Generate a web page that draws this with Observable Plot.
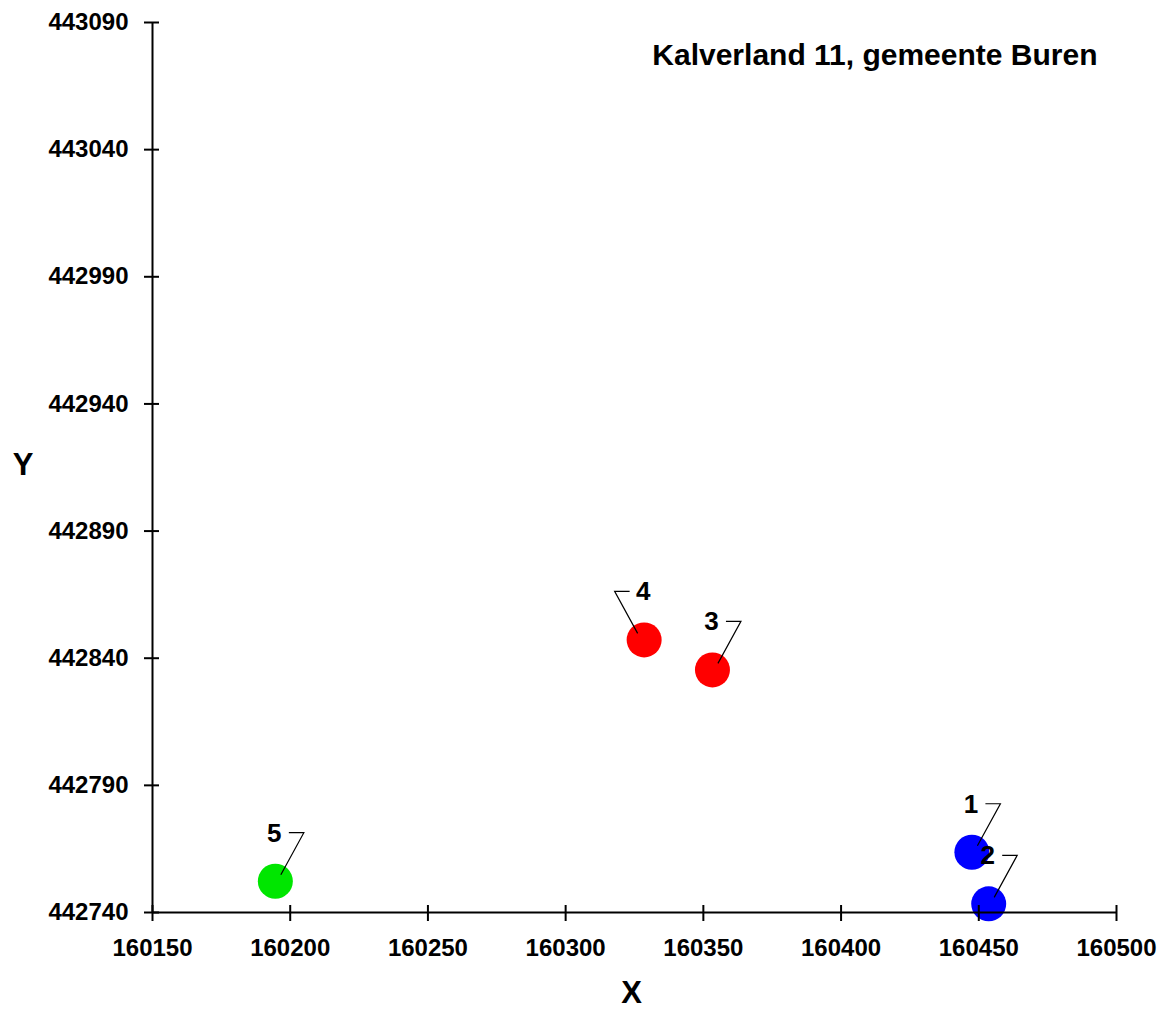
<!DOCTYPE html>
<html>
<head>
<meta charset="utf-8">
<script src="https://cdn.jsdelivr.net/npm/d3@7"></script>
<script src="https://cdn.jsdelivr.net/npm/@observablehq/plot@0.6"></script>
<style>
  html, body { margin: 0; padding: 0; background: #fff; }
</style>
</head>
<body>
<div id="chart"></div>
<script>
const title = "Kalverland 11, gemeente Buren";
const labels = ["1", "2", "3", "4", "5"];
const xs = [160447.5, 160453.6, 160353.3, 160328.5, 160194.6];
const ys = [442763.7, 442743.4, 442835.4, 442847.2, 442752.3];
const groups = ["blauw", "blauw", "rood", "rood", "groen"];
const labelSide = [1, 1, 1, -1, 1];
const xTicks = [160150, 160200, 160250, 160300, 160350, 160400, 160450, 160500];
const yTicks = [442740, 442790, 442840, 442890, 442940, 442990, 443040, 443090];

const data = labels.map((l, i) => ({label: l, x: xs[i], y: ys[i], group: groups[i], side: labelSide[i]}));

const font = "'Liberation Sans', Arial, sans-serif";

function leaders(index, scales, values, dimensions, context) {
  const ns = "http://www.w3.org/2000/svg";
  const g = document.createElementNS(ns, "g");
  for (const d of data) {
    const cx = scales.x(d.x), cy = scales.y(d.y), s = d.side;
    const p = document.createElementNS(ns, "path");
    p.setAttribute("d", `M${cx + 6 * s},${cy - 6}L${cx + 29 * s},${cy - 48}L${cx + 14 * s},${cy - 48}`);
    p.setAttribute("fill", "none");
    p.setAttribute("stroke", "#000");
    p.setAttribute("stroke-width", "1.2");
    g.appendChild(p);
  }
  return g;
}

const chart = Plot.plot({
  width: 1166,
  height: 1010,
  marginLeft: 152,
  marginRight: 50,
  marginTop: 22,
  marginBottom: 98,
  style: {fontFamily: font, fontSize: "24px", fontWeight: "bold", color: "#000", background: "#fff"},
  x: {domain: [160150, 160500], label: null},
  y: {domain: [442740, 443090], label: null},
  color: {domain: ["blauw", "rood", "groen"], range: ["#0000ff", "#ff0000", "#00e600"]},
  marks: [
    Plot.dot(data, {x: "x", y: "y", r: 17.5, fill: "group", stroke: null}),
    Plot.ruleX([160150], {stroke: "#000", strokeWidth: 2}),
    Plot.ruleY([442740], {stroke: "#000", strokeWidth: 2}),
    Plot.axisX({ticks: xTicks, tickSize: 16, dy: -7, tickPadding: 17, tickFormat: d3.format("d"), strokeWidth: 2, fontSize: 24, fontWeight: "bold"}),
    Plot.axisY({ticks: yTicks, tickSize: 15, dx: 7, tickPadding: 16, tickFormat: d3.format("d"), strokeWidth: 2, fontSize: 24, fontWeight: "bold"}),
    leaders,
    Plot.text(data, {x: "x", y: "y", text: "label", dy: -48, dx: -1, fontSize: 26, fontWeight: "bold", fill: "#000"}),
    Plot.text([title], {frameAnchor: "top-right", textAnchor: "end", lineAnchor: "middle", dx: -19, dy: 33, fontSize: 30, fontWeight: "bold", fill: "#000"}),
    Plot.text(["X"], {frameAnchor: "bottom", lineAnchor: "middle", dx: -3, dy: 81, fontSize: 31, fontWeight: "bold", fill: "#000"}),
    Plot.text(["Y"], {frameAnchor: "left", textAnchor: "middle", lineAnchor: "middle", dx: -129.5, dy: -2, fontSize: 31, fontWeight: "bold", fill: "#000"})
  ]
});
document.getElementById("chart").appendChild(chart);
</script>
</body>
</html>
